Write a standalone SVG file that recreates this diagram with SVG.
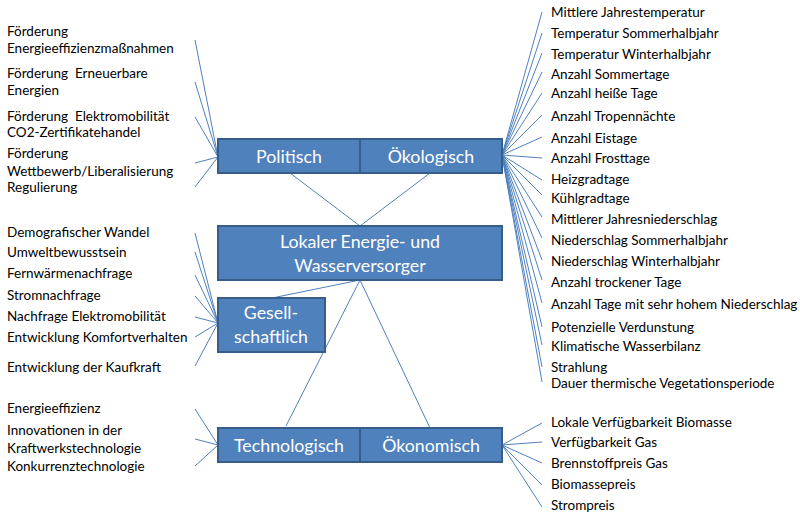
<svg xmlns="http://www.w3.org/2000/svg" width="800" height="516" viewBox="0 0 800 516">
<style>
.box{fill:#4F81BD;stroke:#385D8A;stroke-width:2}
.bt{font-family:Lato,"Liberation Sans",sans-serif;font-size:17.8px;fill:#ffffff;text-anchor:middle}
.t{font-family:Lato,"Liberation Sans",sans-serif;font-size:13.5px;fill:#000000}
.c line{stroke:#4F81BD;stroke-width:1}
</style>
<rect width="800" height="516" fill="#ffffff"/>
<g class="c" id="connectors">
<line x1="195" y1="40" x2="218" y2="157"/>
<line x1="195" y1="82" x2="218" y2="157"/>
<line x1="195" y1="117" x2="218" y2="157"/>
<line x1="195" y1="163" x2="218" y2="157"/>
<line x1="195" y1="187" x2="218" y2="157"/>
<line x1="195" y1="233" x2="218" y2="323"/>
<line x1="195" y1="252" x2="218" y2="323"/>
<line x1="195" y1="275" x2="218" y2="323"/>
<line x1="195" y1="296" x2="218" y2="323"/>
<line x1="195" y1="317" x2="218" y2="323"/>
<line x1="195" y1="337" x2="218" y2="323"/>
<line x1="195" y1="366" x2="218" y2="323"/>
<line x1="195" y1="409" x2="218" y2="445"/>
<line x1="195" y1="439" x2="218" y2="445"/>
<line x1="195" y1="466" x2="218" y2="445"/>
<line x1="542" y1="12" x2="502" y2="155"/>
<line x1="542" y1="33" x2="502" y2="155"/>
<line x1="542" y1="53" x2="502" y2="155"/>
<line x1="542" y1="72" x2="502" y2="155"/>
<line x1="542" y1="93" x2="502" y2="155"/>
<line x1="542" y1="115" x2="502" y2="155"/>
<line x1="542" y1="137" x2="502" y2="155"/>
<line x1="542" y1="158" x2="502" y2="155"/>
<line x1="542" y1="180" x2="502" y2="155"/>
<line x1="542" y1="195" x2="502" y2="155"/>
<line x1="542" y1="217" x2="502" y2="155"/>
<line x1="542" y1="238" x2="502" y2="155"/>
<line x1="542" y1="260" x2="502" y2="155"/>
<line x1="542" y1="280" x2="502" y2="155"/>
<line x1="542" y1="303" x2="502" y2="155"/>
<line x1="542" y1="327" x2="502" y2="155"/>
<line x1="542" y1="345" x2="502" y2="155"/>
<line x1="542" y1="367" x2="502" y2="155"/>
<line x1="542" y1="382" x2="502" y2="155"/>
<line x1="542" y1="423" x2="502" y2="445"/>
<line x1="542" y1="442" x2="502" y2="445"/>
<line x1="542" y1="463" x2="502" y2="445"/>
<line x1="542" y1="485" x2="502" y2="445"/>
<line x1="542" y1="507" x2="502" y2="445"/>
<line x1="290" y1="173" x2="360" y2="226"/>
<line x1="430" y1="173" x2="360" y2="226"/>
<line x1="360" y1="280" x2="272" y2="298"/>
<line x1="360" y1="280" x2="286" y2="426"/>
<line x1="360" y1="280" x2="430" y2="428"/>
</g>
<g id="politisch"><rect class="box" x="218" y="139" width="142" height="34"/><text class="bt" x="289" y="163">Politisch</text></g>
<g id="oekologisch"><rect class="box" x="360" y="139" width="142" height="34"/><text class="bt" x="431" y="163">Ökologisch</text></g>
<g id="lokaler"><rect class="box" x="218" y="226" width="284" height="54"/><text class="bt" x="360" y="248">Lokaler Energie- und</text><text class="bt" x="360" y="272">Wasserversorger</text></g>
<g id="gesellschaftlich"><rect class="box" x="218" y="298" width="107" height="54"/><text class="bt" x="271" y="319">Gesell-</text><text class="bt" x="271" y="343">schaftlich</text></g>
<g id="technologisch"><rect class="box" x="218" y="428" width="142" height="34"/><text class="bt" x="289" y="452">Technologisch</text></g>
<g id="oekonomisch"><rect class="box" x="360" y="428" width="142" height="34"/><text class="bt" x="431" y="452">Ökonomisch</text></g>
<g id="left-politisch">
<text class="t" x="7" y="36">Förderung</text>
<text class="t" x="7" y="53">Energieeffizienzmaßnahmen</text>
<text class="t" x="7" y="78" xml:space="preserve">Förderung  Erneuerbare</text>
<text class="t" x="7" y="95">Energien</text>
<text class="t" x="7" y="121" xml:space="preserve">Förderung  Elektromobilität</text>
<text class="t" x="7" y="137">CO2-Zertifikatehandel</text>
<text class="t" x="7" y="158">Förderung</text>
<text class="t" x="7" y="176">Wettbewerb/Liberalisierung</text>
<text class="t" x="7" y="192">Regulierung</text>
</g>
<g id="left-gesell">
<text class="t" x="7" y="237">Demografischer Wandel</text>
<text class="t" x="7" y="257">Umweltbewusstsein</text>
<text class="t" x="7" y="278">Fernwärmenachfrage</text>
<text class="t" x="7" y="300">Stromnachfrage</text>
<text class="t" x="7" y="321">Nachfrage Elektromobilität</text>
<text class="t" x="7" y="342">Entwicklung Komfortverhalten</text>
<text class="t" x="7" y="372">Entwicklung der Kaufkraft</text>
</g>
<g id="left-techno">
<text class="t" x="7" y="413">Energieeffizienz</text>
<text class="t" x="7" y="435">Innovationen in der</text>
<text class="t" x="7" y="453">Kraftwerkstechnologie</text>
<text class="t" x="7" y="471">Konkurrenztechnologie</text>
</g>
<g id="right-oeko">
<text class="t" x="551" y="17">Mittlere Jahrestemperatur</text>
<text class="t" x="551" y="38">Temperatur Sommerhalbjahr</text>
<text class="t" x="551" y="59">Temperatur Winterhalbjahr</text>
<text class="t" x="551" y="79">Anzahl Sommertage</text>
<text class="t" x="551" y="98">Anzahl heiße Tage</text>
<text class="t" x="551" y="121">Anzahl Tropennächte</text>
<text class="t" x="551" y="143">Anzahl Eistage</text>
<text class="t" x="551" y="163">Anzahl Frosttage</text>
<text class="t" x="551" y="184">Heizgradtage</text>
<text class="t" x="551" y="203">Kühlgradtage</text>
<text class="t" x="551" y="224">Mittlerer Jahresniederschlag</text>
<text class="t" x="551" y="245">Niederschlag Sommerhalbjahr</text>
<text class="t" x="551" y="266">Niederschlag Winterhalbjahr</text>
<text class="t" x="551" y="287">Anzahl trockener Tage</text>
<text class="t" x="551" y="309">Anzahl Tage mit sehr hohem Niederschlag</text>
<text class="t" x="551" y="332">Potenzielle Verdunstung</text>
<text class="t" x="551" y="351">Klimatische Wasserbilanz</text>
<text class="t" x="551" y="372">Strahlung</text>
<text class="t" x="551" y="388">Dauer thermische Vegetationsperiode</text>
</g>
<g id="right-oekonom">
<text class="t" x="551" y="427">Lokale Verfügbarkeit Biomasse</text>
<text class="t" x="551" y="447">Verfügbarkeit Gas</text>
<text class="t" x="551" y="468">Brennstoffpreis Gas</text>
<text class="t" x="551" y="489">Biomassepreis</text>
<text class="t" x="551" y="510">Strompreis</text>
</g>
</svg>
